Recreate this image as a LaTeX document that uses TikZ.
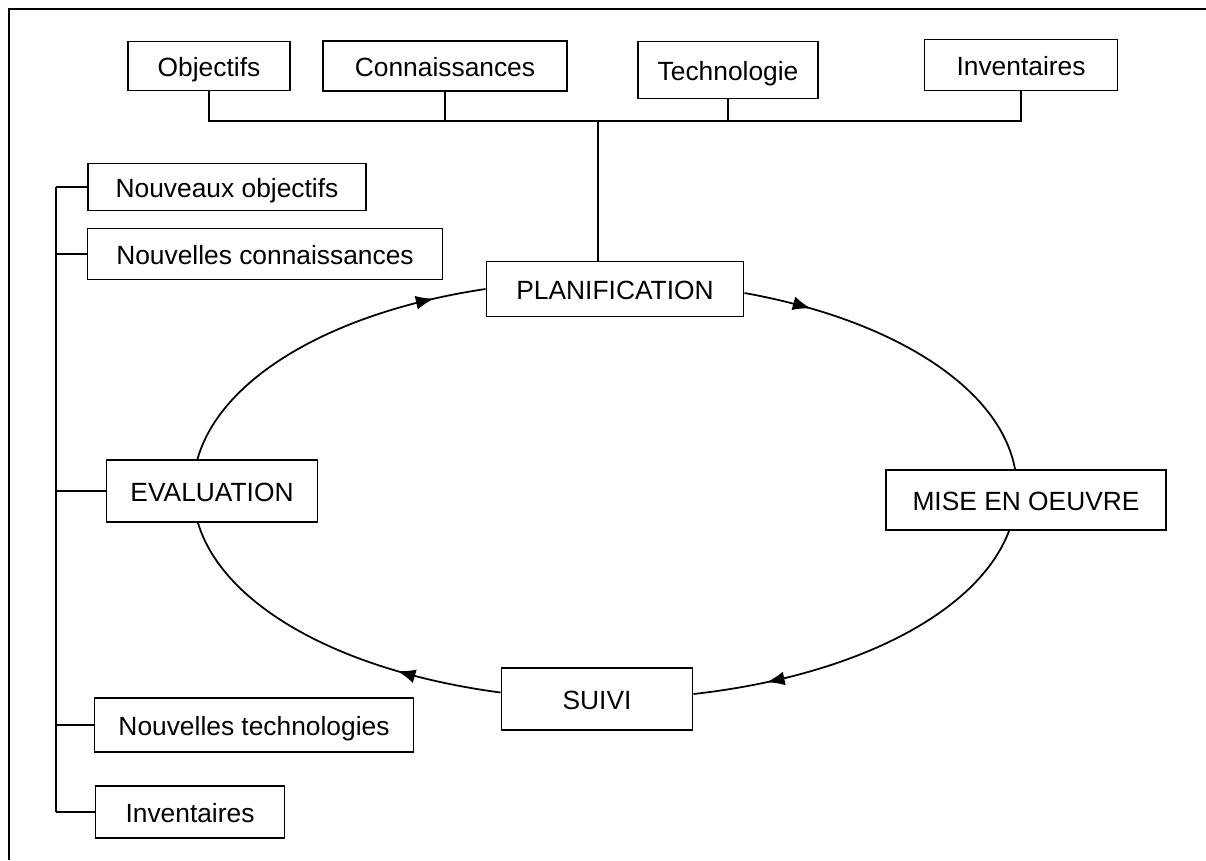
\documentclass[tikz,border=0pt]{standalone}
\usepackage{fontspec}
\setmainfont{Liberation Sans}
\usetikzlibrary{arrows.meta,decorations.markings,positioning}
\tikzset{>=latex}
\tikzset{box/.style={draw, fill=white, line width=1.1pt, inner sep=0pt,
    text height=12pt, text depth=0pt, font=\fontsize{15}{18}\selectfont}}
\tikzset{dim/.style 2 args={minimum width=#1*0.02cm, minimum height=#2*0.02cm}}
\tikzset{link/.style={line width=1pt}}
\tikzset{flow/.style={link, postaction={decorate},
    decoration={markings, mark=at position #1 with {\arrow{Latex[length=3.6mm,width=2.8mm]}}}}}

\begin{document}
\begin{tikzpicture}[x=0.02cm, y=-0.02cm]
  \useasboundingbox (0,0) rectangle (1206,860);
  % frame
  \draw[line width=1.1pt] (9,860) -- (9,9) -- (1206,9);
  % top boxes
  \node[box, dim={162}{49}] (obj) at (209,66) {Objectifs};
  \node[box, dim={244}{50}] (conn) at (445,66) {Connaissances};
  \node[box, dim={180}{57}] (tech) at (728,70) {Technologie};
  \node[box, dim={193}{51}] (inv) at (1021,65) {Inventaires};
  % cycle
  \node[box, dim={257}{55}] (plan) at (615,289) {PLANIFICATION};
  \node[box, dim={280}{60}] (mise) at (1026,500) {MISE EN OEUVRE};
  \node[box, dim={191}{62}] (suivi) at (597,699) {SUIVI};
  \node[box, dim={211}{62}] (eval) at (212,491) {EVALUATION};
  % left boxes
  \node[box, dim={278}{47}] (nobj) at (227,187) {Nouveaux objectifs};
  \node[box, dim={355}{51}] (nconn) at (265,254) {Nouvelles connaissances};
  \node[box, dim={319}{54}] (ntech) at (254,725) {Nouvelles technologies};
  \node[box, dim={189}{52}] (ninv) at (190,812) {Inventaires};
  % top bus
  \coordinate (bus) at (598,121);
  \draw[link] (obj.south) -- (obj.south |- bus) -- (inv.south |- bus) -- (inv.south);
  \foreach \n in {conn,tech}
    \draw[link] (\n.south) -- (\n.south |- bus);
  \draw[link] (bus) -- (bus |- plan.north);
  % left bus
  \coordinate (lbus) at (56,180);
  \draw[link] (lbus |- nobj.west) -- (lbus |- ninv.west);
  \foreach \n in {nobj,nconn,eval,ntech,ninv}
    \draw[link] (\n.west) -- (\n.west -| lbus);
  % cycle arcs (quarters of one ellipse)
  \draw[flow=0.85] ([xshift=-0.29cm]eval.north) .. controls +(23,-81) and +(-154,23) .. (plan.west);
  \draw[flow=0.2] ([yshift=-0.08cm]plan.east) .. controls +(150,27) and +(-15,-81) .. ([xshift=-0.22cm]mise.north);
  \draw[flow=0.8] ([xshift=-0.34cm]mise.south) .. controls +(-31,82) and +(161,-18) .. ([yshift=0.1cm]suivi.east);
  \draw[flow=0.29] ([yshift=0.13cm]suivi.west) .. controls +(-159,-21) and +(25,83) .. ([xshift=-0.28cm]eval.south);
\end{tikzpicture}
\end{document}
